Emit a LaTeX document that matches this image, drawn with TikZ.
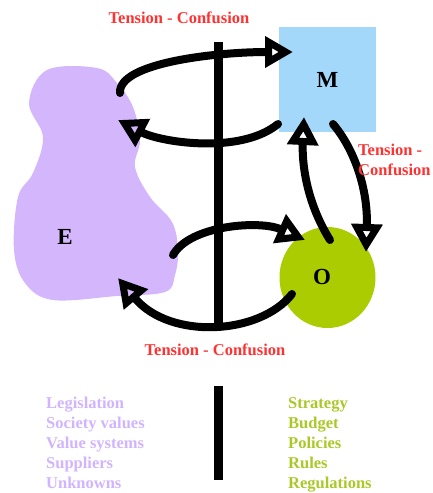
\documentclass[tikz,border=0pt]{standalone}
\usepackage{fontspec}
\setmainfont{Liberation Serif}
\usetikzlibrary{arrows.meta,shapes.geometric}
\definecolor{lav}{RGB}{212,182,252}
\definecolor{lavtxt}{RGB}{208,180,255}
\definecolor{skyb}{RGB}{164,216,250}
\definecolor{lime}{RGB}{170,204,0}
\definecolor{limetxt}{RGB}{170,200,40}
\definecolor{tred}{RGB}{255,50,50}
\begin{document}
\begin{tikzpicture}[x=1pt,y=-1pt,
  lbl/.style={font=\fontsize{16.5}{20}\selectfont\bfseries},
  big/.style={font=\fontsize{23}{26}\selectfont\bfseries},
  tc/.style={lbl, text=tred, inner sep=0pt},
  lefti/.style={lbl, text=lavtxt, anchor=base west, inner sep=0pt},
  righti/.style={lbl, text=limetxt, anchor=base west, inner sep=0pt},
  flow/.style={line width=8pt, line cap=round, -{Triangle[open,length=28pt,width=30pt]}},
  bar/.style={line width=9pt}]
\useasboundingbox (0,0) rectangle (432,493);

% E blob
\fill[lav] plot[smooth cycle, tension=0.6] coordinates {
  (47,70) (97,68) (117,83) (133,107) (140,140) (135,167) (150,197)
  (172,222) (178,250) (175,275) (165,292) (117,296) (53,300) (25,283)
  (14,250) (18,197) (33,173) (43,137) (29,103)};
\node[big] (E) at (65,237) {E};

% M square
\node[fill=skyb, minimum width=97pt, minimum height=105pt, inner sep=0pt, big] (M) at (327.5,79.5) {M};

% O circle
\node[ellipse, fill=lime, minimum width=96pt, minimum height=101pt, inner sep=0pt] (Oc) at (327.5,277.5) {};
\node[big] (O) at (322,277) {O};

% vertical bars
\coordinate (vt) at (218,42);
\coordinate (vb) at (218,327);
\draw[bar] (vt) -- (vb);
\coordinate (wt) at (218,386);
\coordinate (wb) at (218,480);
\draw[bar] (wt) -- (wb);

% arrow end points
\coordinate (a1s) at (120,93);  \coordinate (a1e) at (293,52);
\coordinate (a2s) at (278,124); \coordinate (a2e) at (118,120);
\coordinate (a3s) at (330,240); \coordinate (a3e) at (304,117);
\coordinate (a4s) at (333,124); \coordinate (a4e) at (366,252);
\coordinate (a5s) at (173,255); \coordinate (a5e) at (305,240);
\coordinate (a6s) at (292,294); \coordinate (a6e) at (118,278);

\draw[flow] (a1s) .. controls (118,62) and (220,52) .. (a1e);
\draw[flow] (a2s) .. controls (240,155) and (160,142) .. (a2e);
\draw[flow] (a3s) .. controls (305,200) and (302,160) .. (a3e);
\draw[flow] (a4s) .. controls (355,150) and (368,190) .. (a4e);
\draw[flow] (a5s) .. controls (190,225) and (260,220) .. (a5e);
\draw[flow] (a6s) .. controls (260,335) and (170,340) .. (a6e);

% labels
\node[tc, anchor=base] (t1) at (179,23) {Tension - Confusion};
\node[tc, anchor=base west] (t2) at (358,155) {Tension -};
\node[tc, anchor=base west] (t3) at (358,175) {Confusion};
\node[tc, anchor=base] (t4) at (215,355) {Tension - Confusion};

% lists
\node[lefti] (l1) at (46,408) {Legislation};
\node[lefti] (l2) at (46,428) {Society values};
\node[lefti] (l3) at (46,448) {Value systems};
\node[lefti] (l4) at (46,468) {Suppliers};
\node[lefti] (l5) at (46,488) {Unknowns};
\node[righti] (r1) at (288,408) {Strategy};
\node[righti] (r2) at (288,428) {Budget};
\node[righti] (r3) at (288,448) {Policies};
\node[righti] (r4) at (288,468) {Rules};
\node[righti] (r5) at (288,488) {Regulations};
\end{tikzpicture}
\end{document}
